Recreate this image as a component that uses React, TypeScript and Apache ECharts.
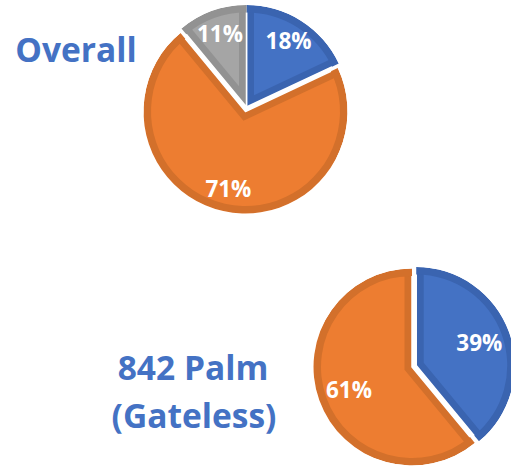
import React, { useEffect, useRef } from 'react';
import * as echarts from 'echarts';

// ---- data ----
const overallNames = ['Segment A', 'Segment B', 'Segment C'];
const overallValues = [18, 71, 11];
const overallExploded = [false, true, false];

const palmNames = ['Segment A', 'Segment B'];
const palmValues = [39, 61];
const palmExploded = [true, false];

const titleOverall = 'Overall';
const titlePalm1 = '842 Palm';
const titlePalm2 = '(Gateless)';

const mainColors = ['#4472C4', '#ED7D31', '#A5A5A5'];
const rimColors = ['#3A64B0', '#D3702B', '#929292'];

const RIM = 7.5;

type PieSpec = {
  names: string[];
  values: number[];
  exploded: boolean[];
  cx: number;
  cy: number;
  R: number;
  offset: number;
  labelInner: number;
};

function buildPie(spec: PieSpec): any[] {
  const { names, values, exploded, cx, cy, R, offset, labelInner } = spec;
  const d = RIM;
  const total = values.reduce((a, b) => a + b, 0);
  const common: any = {
    type: 'pie',
    center: [cx, cy],
    startAngle: 90,
    clockwise: true,
    selectedMode: 'multiple',
    selectedOffset: offset,
    silent: true,
    avoidLabelOverlap: false,
    label: { show: false },
    labelLine: { show: false },
    emphasis: { disabled: true },
    animation: false,
  };
  const mk = (colorFn: (i: number) => string, extra: any = {}) =>
    names.map((n, i) => ({
      name: n,
      value: values[i],
      selected: exploded[i],
      itemStyle: { color: colorFn(i), ...extra },
    }));

  const out: any[] = [];
  // dark base sectors with thin white separators
  out.push({
    ...common,
    z: 1,
    radius: [0, R],
    itemStyle: { borderColor: '#ffffff', borderWidth: 1.5 },
    data: mk((i) => rimColors[i]),
  });
  // inset main-colour fills, one per slice
  let acc = 0;
  values.forEach((v, i) => {
    const frac = v / total;
    const theta = (acc + frac / 2) * 2 * Math.PI;
    acc += frac;
    const alpha = Math.PI * frac;
    const vlen = d / Math.sin(alpha);
    const bx = Math.sin(theta);
    const by = -Math.cos(theta);
    const ex = exploded[i] ? offset : 0;
    const rMin = Math.sqrt((R - d) * (R - d) - d * d) - d / Math.tan(alpha);
    const r = Math.max(R - vlen, rMin);
    out.push({
      ...common,
      selectedMode: false,
      z: 2,
      center: [cx + (ex + vlen) * bx, cy + (ex + vlen) * by],
      radius: [0, r],
      itemStyle: { borderWidth: 0 },
      data: names.map((n, j) => ({
        name: n,
        value: values[j],
        itemStyle: { color: j === i ? mainColors[j] : 'rgba(0,0,0,0)', borderWidth: 0 },
      })),
    });
  });
  // dark outer rim
  out.push({
    ...common,
    z: 3,
    radius: [R - d, R],
    itemStyle: { borderWidth: 0 },
    data: mk((i) => rimColors[i]),
  });
  // white cover outside
  out.push({
    ...common,
    z: 4,
    radius: [R, R + 18],
    itemStyle: { borderWidth: 0 },
    data: mk(() => '#ffffff'),
  });
  // labels
  out.push({
    ...common,
    z: 5,
    radius: [R * labelInner, R],
    itemStyle: { borderWidth: 0 },
    label: {
      show: true,
      position: 'inside',
      formatter: '{d}%',
      color: '#ffffff',
      fontFamily: 'Open Sans',
      fontWeight: 'bold',
      fontSize: 22.5,
    },
    data: mk(() => 'rgba(0,0,0,0)'),
  });
  return out;
}

export default function App() {
  const ref = useRef<HTMLDivElement>(null);
  useEffect(() => {
    if (!ref.current) return;
    const chart = echarts.init(ref.current, undefined, { renderer: 'svg' });
    const series = [
      ...buildPie({
        names: overallNames,
        values: overallValues,
        exploded: overallExploded,
        cx: 246.5,
        cy: 107,
        R: 102,
        offset: 4.6,
        labelInner: 0.48,
      }),
      ...buildPie({
        names: palmNames,
        values: palmValues,
        exploded: palmExploded,
        cx: 412,
        cy: 367,
        R: 98.5,
        offset: 4.5,
        labelInner: 0.3,
      }),
    ];
    const titleStyle = (text: string, x: number, y: number, size: number) => ({
      type: 'text',
      z: 100,
      x,
      y,
      style: {
        text,
        fill: '#4472C4',
        font: `bold ${size}px "Open Sans"`,
        textAlign: 'center',
        textVerticalAlign: 'middle',
        verticalAlign: 'middle',
      },
    });
    chart.setOption({
      animation: false,
      backgroundColor: '#ffffff',
      series,
      graphic: [
        titleStyle(titleOverall, 76, 48.5, 33.5),
        titleStyle(titlePalm1, 193, 366.5, 33.5),
        titleStyle(titlePalm2, 194, 415, 33.5),
      ],
    });
    return () => chart.dispose();
  }, []);
  return (
    <div
      ref={ref}
      style={{ position: 'fixed', left: 0, top: 0, width: 511, height: 470, background: '#fff' }}
    />
  );
}
